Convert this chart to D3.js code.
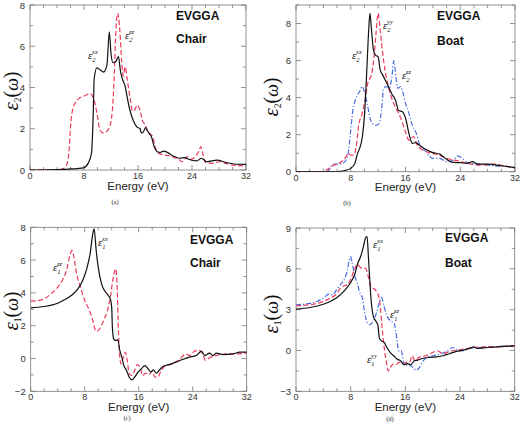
<!DOCTYPE html>
<html><head><meta charset="utf-8">
<script src="https://cdn.jsdelivr.net/npm/d3@7"></script>
<style>body{margin:0;background:#fff}svg{display:block}</style>
</head><body><svg id="c" width="521" height="428"></svg>
<script>
// ---------- DATA ----------
const energyTicks = [0, 8, 16, 24, 32];
const eps2Ticks = [0, 2, 4, 6, 8];
const eps1ChairTicks = [-2, 0, 2, 4, 6, 8];
const eps1BoatTicks = [-3, 0, 3, 6, 9];

// (a) Chair, eps2
const chairEps2XX = [[0,0],[3,0.01],[5,0.03],[6,0.05],[7,0.07],[7.9,0.1],[8.6,0.32],[9.1,0.8],[9.4,3.1],[9.5,4.4],[9.9,4.95],[10.4,4.85],[10.9,4.75],[11.4,5.1],[11.75,6.7],[12.0,5.65],[12.3,5.2],[12.7,5.25],[13.1,5.5],[13.4,4.8],[13.7,4.4],[14.1,4.05],[14.3,3.7],[14.8,2.9],[15.3,2.4],[15.8,2.1],[16.3,2.0],[16.5,1.8],[16.8,1.85],[17.1,2.05],[17.5,1.85],[18.0,1.6],[18.4,1.13],[18.8,0.9],[19.3,0.85],[19.8,0.92],[20.2,0.88],[21.2,0.68],[22.2,0.57],[23.0,0.6],[23.5,0.52],[24.7,0.44],[25.4,0.57],[26.2,0.4],[27.7,0.48],[29.1,0.36],[30.6,0.28],[32,0.27]];
const chairEps2ZZ = [[0,0],[4,0.01],[5,0.08],[5.5,0.32],[5.8,1.0],[6.0,2.1],[6.3,2.9],[6.8,3.3],[7.4,3.5],[8.1,3.6],[8.9,3.7],[9.3,3.55],[9.6,3.25],[10.0,2.6],[10.3,2.0],[10.8,1.8],[11.3,1.85],[11.8,2.1],[12.2,2.9],[12.5,4.7],[12.7,6.6],[13.0,7.6],[13.3,6.8],[13.6,5.2],[13.8,4.55],[14.1,5.0],[14.4,4.4],[14.8,3.55],[15.2,2.85],[15.5,2.9],[15.9,3.15],[16.3,2.9],[16.7,2.35],[17.1,2.2],[17.5,1.8],[17.9,1.73],[18.2,1.6],[18.6,1.05],[19.2,0.78],[20.0,0.73],[21.0,0.65],[22,0.52],[22.6,0.4],[23.3,0.65],[23.8,0.52],[24.5,0.65],[25.0,0.9],[25.3,1.13],[25.6,0.8],[26.0,0.36],[27,0.32],[28,0.4],[29,0.32],[30,0.24],[32,0.2]];

// (b) Boat, eps2
const boatEps2XX = [[0,0],[6,0.01],[7,0.05],[8,0.18],[8.6,0.45],[9.0,1.0],[9.3,1.26],[9.7,1.9],[10.0,3.0],[10.3,5.1],[10.6,7.5],[10.8,8.55],[11.0,7.8],[11.3,6.6],[11.6,6.3],[12.0,6.2],[12.3,5.5],[12.7,5.2],[13.1,4.9],[13.5,4.6],[14.0,4.2],[14.5,3.9],[15.0,3.3],[15.5,3.25],[16.0,2.9],[16.5,2.07],[17.0,1.53],[17.5,1.57],[18.0,1.44],[19,1.2],[20,1.03],[21,0.95],[22,0.67],[23,0.5],[24,0.49],[25,0.45],[25.8,0.54],[26.5,0.41],[28,0.41],[30,0.32],[32,0.22]];
const boatEps2YY = [[0,0],[4,0.01],[4.5,0.1],[5.5,0.35],[6.5,0.5],[7.3,0.8],[7.6,1.0],[8.0,0.9],[8.4,0.9],[8.8,1.35],[9.2,2.6],[9.6,3.05],[10.0,3.7],[10.5,4.8],[11.0,5.2],[11.4,6.2],[11.7,7.5],[12.0,8.55],[12.3,7.65],[12.6,6.6],[13.0,5.5],[13.5,4.6],[14.0,3.95],[14.5,3.5],[15.0,3.15],[15.5,2.7],[16.0,2.15],[16.5,1.7],[17.2,1.9],[17.7,1.45],[18.5,1.17],[19.5,1.03],[20.5,0.95],[21.5,0.8],[22.5,0.67],[23.5,0.6],[25,0.45],[27,0.36],[29,0.41],[31,0.27],[32,0.2]];
const boatEps2ZZ = [[0,0],[4.5,0.01],[5,0.18],[5.3,0.4],[6,0.41],[6.8,0.45],[7.3,0.63],[7.7,1.17],[8.0,2.25],[8.3,3.3],[8.7,3.9],[9.0,4.15],[9.4,4.4],[9.7,4.6],[10.0,4.3],[10.4,3.7],[10.8,2.9],[11.2,2.6],[11.7,2.5],[12.1,2.58],[12.5,3.3],[12.8,4.5],[13.2,4.6],[13.6,4.5],[14.0,5.1],[14.3,6.0],[14.6,5.1],[14.9,4.5],[15.3,4.6],[15.6,4.3],[16.0,3.7],[16.5,3.15],[17.0,2.5],[17.5,2.15],[18,1.53],[19,1.08],[20,0.72],[21,0.72],[22,0.54],[23,0.63],[23.6,0.85],[24.3,0.72],[25,0.49],[27,0.41],[29,0.32],[31,0.27],[32,0.22]];

// (c) Chair, eps1
const chairEps1XX = [[0,3.09],[2,3.17],[4,3.37],[5,3.58],[6,3.84],[7,4.25],[7.7,4.76],[8.3,5.47],[8.8,6.38],[9.2,7.6],[9.4,7.9],[9.7,6.6],[10.0,5.57],[10.5,4.55],[11.0,4.1],[11.5,3.84],[11.8,3.64],[12.0,3.13],[12.1,1.9],[12.3,1.2],[12.6,1.1],[12.9,1.14],[13.2,0.49],[13.5,0.08],[13.8,-0.43],[14.2,-0.73],[14.6,-1.14],[15.0,-1.3],[15.4,-1.14],[15.9,-0.83],[16.4,-0.63],[16.9,-0.43],[17.4,-0.63],[17.8,-0.83],[18.2,-0.69],[18.6,-0.9],[19.0,-0.73],[19.6,-0.49],[20.5,-0.37],[21.5,-0.22],[22.5,-0.06],[23.5,0.08],[24.5,0.18],[25.3,0.43],[25.8,0.18],[26.5,0.33],[27,0.18],[27.5,0.33],[28.5,0.24],[30,0.28],[31,0.39],[32,0.39]];
const chairEps1ZZ = [[0,3.5],[1,3.52],[2,3.64],[3,3.94],[4,4.35],[4.8,4.86],[5.3,5.37],[5.8,6.28],[6.1,6.59],[6.4,6.18],[6.8,5.16],[7.3,4.45],[8.0,3.54],[8.7,2.93],[9.2,2.32],[9.5,1.8],[9.8,1.65],[10.2,1.8],[10.8,2.32],[11.3,2.83],[11.8,3.74],[12.2,4.86],[12.6,5.47],[12.8,4.35],[13.0,1.7],[13.2,0.08],[13.4,-0.33],[13.7,0.04],[14.0,0.39],[14.3,-0.12],[14.6,-0.93],[15.0,-1.04],[15.4,-0.73],[15.8,-0.37],[16.2,-0.53],[16.6,-1.04],[17.0,-0.9],[17.5,-0.98],[18.0,-0.77],[18.4,-1.14],[18.8,-1.14],[19.3,-0.77],[20,-0.43],[21,-0.33],[22,-0.08],[23,0.28],[23.5,0.18],[24.3,0.45],[25.0,0.49],[25.5,0.28],[25.9,-0.12],[26.5,0.04],[27.5,0.18],[29,0.28],[30.5,0.28],[32,0.33]];

// (d) Boat, eps1
const boatEps1XX = [[0,3.04],[2,3.16],[4,3.4],[5,3.6],[6,3.9],[7,4.34],[8,5.0],[8.6,5.6],[9.0,6.35],[9.5,6.96],[9.9,7.7],[10.2,8.3],[10.4,8.36],[10.6,6.84],[10.8,5.12],[11.0,3.65],[11.3,2.55],[11.6,2.23],[12.0,1.81],[12.2,0.9],[12.5,0.71],[12.9,0.59],[13.3,0.22],[13.8,-0.15],[14.3,-0.39],[14.8,-0.64],[15.3,-0.76],[15.8,-1.05],[16.3,-0.96],[16.8,-1.05],[17.3,-0.76],[17.8,-0.71],[18.5,-0.59],[19.5,-0.51],[20.5,-0.47],[21.5,-0.39],[22.5,-0.22],[23.5,-0.07],[24.5,0.02],[25.5,0.17],[26,0.27],[26.5,0.15],[28,0.22],[30,0.29],[32,0.34]];
const boatEps1YY = [[0,3.28],[2,3.36],[4,3.6],[5,3.85],[6,4.19],[6.5,4.58],[7,4.75],[7.6,4.83],[8.0,5.25],[8.5,5.86],[9.0,6.35],[9.3,6.15],[9.7,6.05],[10.2,6.03],[10.6,5.37],[11.0,4.68],[11.5,4.5],[12.0,4.14],[12.3,3.4],[12.6,1.7],[12.9,0.22],[13.2,-0.76],[13.5,-1.5],[13.8,-1.25],[14.2,-1.0],[14.6,-1.05],[15.1,-0.88],[15.6,-1.0],[16.2,-0.88],[16.6,-0.88],[17.0,-0.39],[17.4,-0.76],[18.0,-0.51],[19,-0.39],[20,-0.15],[20.6,-0.02],[21.5,-0.22],[22.5,-0.07],[23.5,0.02],[24.5,0.1],[26,0.22],[28,0.27],[30,0.29],[32,0.34]];
const boatEps1ZZ = [[0,3.36],[2,3.46],[3,3.6],[4,3.85],[4.8,4.14],[5.3,4.09],[6,4.5],[6.5,4.83],[7,5.17],[7.5,5.86],[7.8,6.64],[8.0,6.89],[8.2,6.47],[8.6,5.49],[9.0,4.88],[9.4,4.14],[9.7,3.9],[10.0,2.92],[10.4,2.06],[10.8,1.89],[11.3,2.18],[11.8,2.79],[12.2,3.53],[12.5,3.9],[12.8,3.4],[13.2,2.67],[13.6,2.3],[14.0,2.13],[14.3,2.06],[14.6,1.45],[14.9,0.27],[15.1,-0.07],[15.4,-0.02],[15.7,-0.76],[16.0,-1.13],[16.4,-1.0],[16.8,-1.13],[17.2,-1.3],[17.6,-1.45],[18.0,-1.3],[18.6,-0.76],[19.2,-0.51],[20,-0.39],[21,-0.27],[22,-0.07],[23,0.22],[23.6,0.02],[24.5,-0.02],[25.5,0.17],[27,0.22],[29,0.27],[31,0.34],[32,0.36]];

// ---------- DRAW ----------
const svg = d3.select("#c");
const BLACK = "#111", RED = "#ee3a5a", BLUE = "#4a6ce0";
const styles = {
  solid: {color: BLACK, dash: null},
  dash: {color: RED, dash: "5,2.5"},
  dashdot: {color: BLUE, dash: "5,2,1.2,2"}
};

function panel(cfg) {
  const x = d3.scaleLinear().domain([0, 32]).range([cfg.x0, cfg.x1]);
  const y = d3.scaleLinear().domain(cfg.ydom).range([cfg.y1, cfg.y0]);
  const g = svg.append("g");
  const frameColor = "#777";
  g.append("rect").attr("x", cfg.x0).attr("y", cfg.y0)
    .attr("width", cfg.x1 - cfg.x0).attr("height", cfg.y1 - cfg.y0)
    .attr("fill", "none").attr("stroke", frameColor).attr("stroke-width", 0.8);
  const xMinor = d3.range(0, 32.01, 2);
  xMinor.forEach(v => {
    const major = energyTicks.includes(v);
    const L = major ? 5 : 3;
    g.append("line").attr("x1", x(v)).attr("x2", x(v)).attr("y1", cfg.y1).attr("y2", cfg.y1 - L).attr("stroke", frameColor).attr("stroke-width", 0.8);
    g.append("line").attr("x1", x(v)).attr("x2", x(v)).attr("y1", cfg.y0).attr("y2", cfg.y0 + L).attr("stroke", frameColor).attr("stroke-width", 0.8);
  });
  const ystep = cfg.yticks[1] - cfg.yticks[0];
  const yMinor = d3.range(cfg.ydom[0], cfg.ydom[1] + 1e-6, ystep / 2);
  yMinor.forEach(v => {
    const major = cfg.yticks.some(t => Math.abs(t - v) < 1e-6);
    const L = major ? 5 : 3;
    g.append("line").attr("y1", y(v)).attr("y2", y(v)).attr("x1", cfg.x0).attr("x2", cfg.x0 + L).attr("stroke", frameColor).attr("stroke-width", 0.8);
    g.append("line").attr("y1", y(v)).attr("y2", y(v)).attr("x1", cfg.x1).attr("x2", cfg.x1 - L).attr("stroke", frameColor).attr("stroke-width", 0.8);
  });
  g.selectAll(".xt").data(energyTicks).enter().append("text")
    .attr("x", d => x(d)).attr("y", cfg.y1 + 9).attr("text-anchor", "middle")
    .attr("font-family", "Liberation Sans, Arial, sans-serif").attr("font-size", 9).attr("fill", "#333")
    .text(d => d);
  g.selectAll(".yt").data(cfg.yticks).enter().append("text")
    .attr("x", cfg.x0 - 5).attr("y", d => y(d) + 3.5).attr("text-anchor", "end")
    .attr("font-family", "Liberation Sans, Arial, sans-serif").attr("font-size", 9.5).attr("fill", "#333")
    .text(d => d < 0 ? "\u2212" + Math.abs(d) : d);
  g.append("text").attr("x", (cfg.x0 + cfg.x1) / 2).attr("y", cfg.y1 + 19.5).attr("text-anchor", "middle")
    .attr("font-family", "Liberation Sans, Arial, sans-serif").attr("font-size", 11.5).attr("fill", "#222")
    .text("Energy (eV)");
  const yt = g.append("text").attr("transform", `translate(${cfg.ylx},${cfg.yly}) rotate(-90)`)
    .attr("text-anchor", "middle").attr("font-family", "Liberation Serif, Times New Roman, serif").attr("fill", "#111");
  yt.append("tspan").attr("font-style", "italic").attr("font-size", 21).text("\u03b5");
  yt.append("tspan").attr("font-size", 9.5).attr("dy", 2.5).text(cfg.sub);
  yt.append("tspan").attr("font-size", 20).attr("dy", -2.5).text("(");
  yt.append("tspan").attr("font-style", "italic").attr("font-size", 18).text("\u03c9");
  yt.append("tspan").attr("font-size", 20).text(")");
  const line = d3.line().x(d => x(d[0])).y(d => y(d[1])).curve(d3.curveMonotoneX);
  const clipId = "clip" + cfg.id;
  svg.append("clipPath").attr("id", clipId).append("rect")
    .attr("x", cfg.x0).attr("y", cfg.y0).attr("width", cfg.x1 - cfg.x0).attr("height", cfg.y1 - cfg.y0);
  const lg = g.append("g").attr("clip-path", `url(#${clipId})`);
  cfg.series.forEach(s => {
    const st = styles[s.style];
    lg.append("path").datum(s.data).attr("d", line).attr("fill", "none")
      .attr("stroke", st.color).attr("stroke-width", 1.2)
      .attr("stroke-dasharray", st.dash);
  });
  g.append("text").attr("x", cfg.tx).attr("y", cfg.ty).attr("font-family", "Liberation Sans, Arial, sans-serif")
    .attr("font-weight", "bold").attr("font-size", 12).attr("fill", "#111").text("EVGGA");
  g.append("text").attr("x", cfg.tx).attr("y", cfg.ty + cfg.tgap).attr("font-family", "Liberation Sans, Arial, sans-serif")
    .attr("font-weight", "bold").attr("font-size", 12).attr("fill", "#111").text(cfg.struct);
  cfg.notes.forEach(n => {
    const t = g.append("text").attr("x", n.x).attr("y", n.y)
      .attr("font-family", "Liberation Serif, Times New Roman, serif").attr("font-style", "italic").attr("fill", "#111");
    t.append("tspan").attr("font-size", 11).text("\u03b5");
    t.append("tspan").attr("font-size", 6.5).attr("dy", 2.5).text(cfg.sub);
    t.append("tspan").attr("font-size", 6.5).attr("dx", -3.5).attr("dy", -8).text(n.sup);
  });
  g.append("text").attr("x", cfg.capx).attr("y", cfg.capy).attr("text-anchor", "middle")
    .attr("font-family", "Liberation Serif, Times New Roman, serif").attr("font-size", 6.5).attr("fill", "#222")
    .text(cfg.cap);
}

panel({id: "a", x0: 30, x1: 246, y0: 5, y1: 170, ydom: [0, 8], yticks: eps2Ticks, sub: "2",
  ylx: 18, yly: 91, tx: 176, ty: 20, tgap: 23, struct: "Chair", cap: "(a)", capx: 115, capy: 204,
  series: [{data: chairEps2ZZ, style: "dash"}, {data: chairEps2XX, style: "solid"}],
  notes: [{x: 88, y: 59, sup: "xx"}, {x: 125, y: 39, sup: "zz"}]});
panel({id: "b", x0: 296, x1: 515, y0: 5, y1: 171.7, ydom: [0, 9], yticks: eps2Ticks, sub: "2",
  ylx: 278, yly: 97, tx: 437, ty: 20, tgap: 25, struct: "Boat", cap: "(b)", capx: 347, capy: 205,
  series: [{data: boatEps2ZZ, style: "dashdot"}, {data: boatEps2YY, style: "dash"}, {data: boatEps2XX, style: "solid"}],
  notes: [{x: 352, y: 59, sup: "xx"}, {x: 383, y: 29, sup: "yy"}, {x: 402, y: 79, sup: "zz"}]});
panel({id: "c", x0: 30.7, x1: 246.7, y0: 227.3, y1: 391.3, ydom: [-2, 8], yticks: eps1ChairTicks, sub: "1",
  ylx: 18, yly: 311, tx: 190, ty: 244, tgap: 23, struct: "Chair", cap: "(c)", capx: 127, capy: 420,
  series: [{data: chairEps1ZZ, style: "dash"}, {data: chairEps1XX, style: "solid"}],
  notes: [{x: 98, y: 246, sup: "xx"}, {x: 53, y: 271, sup: "zz"}]});
panel({id: "d", x0: 296, x1: 514.7, y0: 228, y1: 391.3, ydom: [-3, 9], yticks: eps1BoatTicks, sub: "1",
  ylx: 278, yly: 314, tx: 445, ty: 242, tgap: 25, struct: "Boat", cap: "(d)", capx: 390, capy: 421,
  series: [{data: boatEps1ZZ, style: "dashdot"}, {data: boatEps1YY, style: "dash"}, {data: boatEps1XX, style: "solid"}],
  notes: [{x: 373, y: 248, sup: "xx"}, {x: 390, y: 318, sup: "zz"}, {x: 367, y: 363, sup: "yy"}]});
</script></body></html>
